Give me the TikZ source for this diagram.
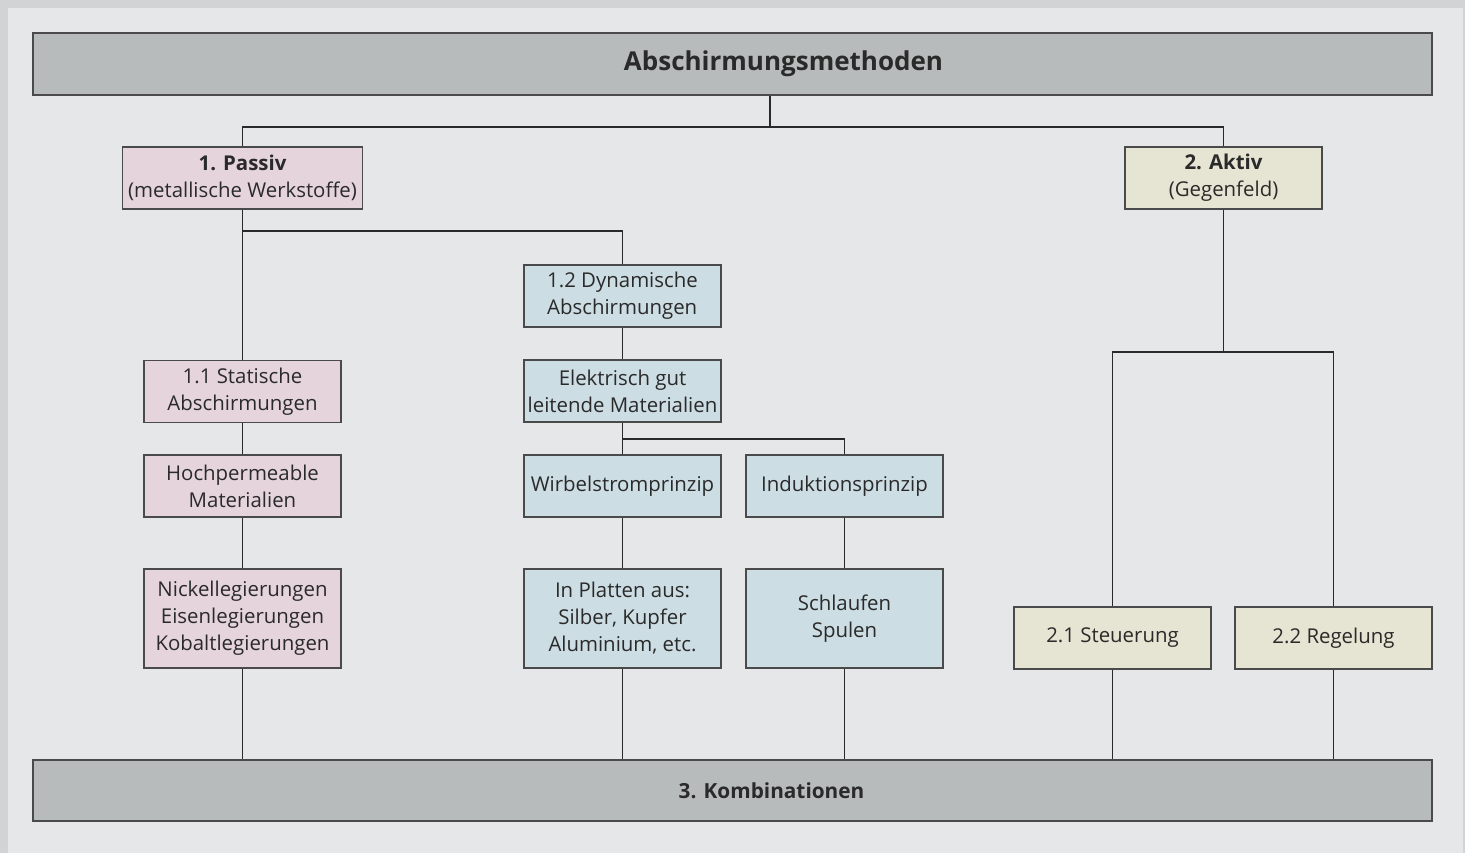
\documentclass[tikz,border=0pt]{standalone}
\usepackage{fontspec}
\setmainfont{Open Sans}
\usetikzlibrary{positioning}

\definecolor{pageback}{HTML}{D2D3D5}
\definecolor{panelback}{HTML}{E6E7E9}
\definecolor{headgray}{HTML}{B8BBBC}
\definecolor{passivpink}{HTML}{E5D4DC}
\definecolor{dynblue}{HTML}{CDDDE4}
\definecolor{aktivbeige}{HTML}{E6E4D2}
\definecolor{inkgray}{HTML}{2A2A2A}

\begin{document}
\begin{tikzpicture}[
  x=0.5pt, y=-0.5pt,
  font=\fontsize{10.2}{13.5}\selectfont,
  text=inkgray,
  box/.style={draw=inkgray!85,line width=0.7pt,align=center,inner sep=0pt,
              minimum width=98.5pt,minimum height=31pt},
  pbox/.style={box,fill=passivpink},
  dbox/.style={box,fill=dynblue},
  abox/.style={box,fill=aktivbeige},
  bar/.style={box,fill=headgray,minimum width=699.5pt},
  link/.style={draw=inkgray,line width=0.95pt}
]
\useasboundingbox (0,0) rectangle (1465,853);
\fill[pageback] (0,0) rectangle (1465,853);
\fill[panelback] (8,8) rectangle (1463,853);

% main bars
\node[bar,label={[xshift=25.5pt,
        font=\fontsize{13}{16}\selectfont\bfseries]center:Abschirmungsmethoden}]
  (methoden) at (732.5,64) {};
\node[bar,minimum height=30.5pt,label={[xshift=19.5pt,
        font=\fontsize{10.4}{13.5}\selectfont\bfseries]center:3. Kombinationen}]
  (kombi) at (732.5,790.5) {};

% passive branch
\node[pbox,minimum width=120pt] (passiv) at (242.5,178)
  {\textbf{1. Passiv}\\(metallische Werkstoffe)};
\node[pbox] (statisch) at (242.5,391.5) {1.1 Statische\\Abschirmungen};
\node[pbox] (hochperm) at (242.5,486) {Hochpermeable\\Materialien};
\node[pbox,minimum height=49.5pt] (legier) at (242.5,618.5)
  {Nickellegierungen\\Eisenlegierungen\\Kobaltlegierungen};

\node[dbox,align=left] (dynam) at (622.5,296) {1.2 Dynamische\\Abschirmungen};
\node[dbox] (elektr) at (622.5,391) {Elektrisch gut\\leitende Materialien};
\node[dbox] (wirbel) at (622.5,486) {Wirbelstromprinzip};
\node[dbox] (indukt) at (844.5,486) {Induktionsprinzip};
\node[dbox,minimum height=49.5pt] (platten) at (622.5,618.5)
  {In Platten aus:\\Silber, Kupfer\\Aluminium, etc.};
\node[dbox,minimum height=49.5pt] (schlauf) at (844.5,618.5) {Schlaufen\\Spulen};

% active branch
\node[abox] (aktiv) at (1223.5,178) {\textbf{2. Aktiv}\\(Gegenfeld)};
\node[abox] (steuer) at (1112.5,638) {2.1 Steuerung};
\node[abox] (regel) at (1333.5,638) {2.2 Regelung};

% connectors
\draw[link] ([xshift=18.75pt]methoden.south) -- ++(0,31) coordinate (topsplit);
\draw[link] (topsplit) -| (passiv.north);
\draw[link] (topsplit) -| (aktiv.north);
\draw[link] (passiv.south) -- (statisch.north);
\draw[link] (passiv.south) ++(0,21) -| (dynam.north);
\draw[link] (statisch) -- (hochperm) -- (legier);
\draw[link] (dynam) -- (elektr) -- (wirbel) -- (platten);
\draw[link] (elektr.south) ++(0,16) -| (indukt.north);
\draw[link] (indukt) -- (schlauf);
\draw[link] (aktiv.south) -- ++(0,142) coordinate (aktsplit);
\draw[link] (aktsplit) -| (steuer.north);
\draw[link] (aktsplit) -| (regel.north);
\foreach \leaf in {legier,platten,schlauf,steuer,regel}
  \draw[link] (\leaf.south) -- (\leaf.south |- kombi.north);
\end{tikzpicture}
\end{document}
